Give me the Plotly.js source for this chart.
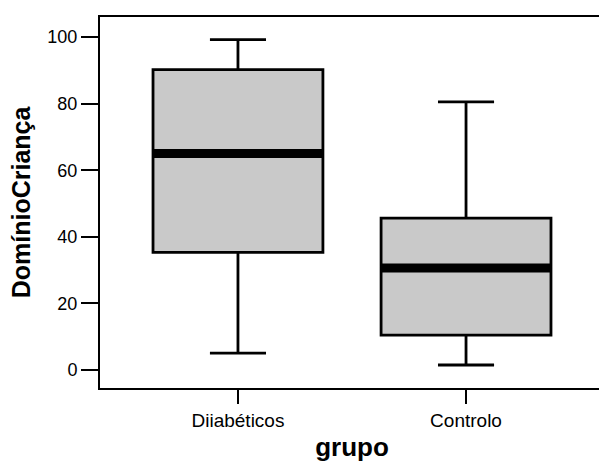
<!DOCTYPE html>
<html>
<head>
<meta charset="utf-8">
<script src="https://cdn.plot.ly/plotly-3.0.1.min.js"></script>
<style>html,body{margin:0;padding:0;overflow:hidden;background:#fff;}#chart{width:604px;height:462px;}</style>
</head>
<body>
<div id="chart"></div>
<script>
const categories = ["Diiabéticos", "Controlo"];
const q1 = [35.3, 10.5];
const medians = [65, 30.6];
const q3 = [90.2, 45.6];
const lowerWhisker = [5.1, 1.5];
const upperWhisker = [99.2, 80.5];

const boxWidth = 0.745;
const traces = [];
categories.forEach((c, i) => {
  traces.push({
    type: 'box', x: [i], q1: [q1[i]], median: [medians[i]], q3: [q3[i]],
    lowerfence: [lowerWhisker[i]], upperfence: [upperWhisker[i]],
    width: boxWidth, whiskerwidth: 0.33,
    fillcolor: '#c9c9c9', line: {color: '#000', width: 2.8},
    hoverinfo: 'skip', showlegend: false, boxpoints: false
  });
});
categories.forEach((c, i) => {
  traces.push({
    type: 'scatter', mode: 'lines',
    x: [i - boxWidth / 2, i + boxWidth / 2], y: [medians[i], medians[i]],
    line: {color: '#000', width: 9}, hoverinfo: 'skip', showlegend: false
  });
});

const layout = {
  width: 604, height: 462,
  margin: {l: 100, r: 0, t: 17, b: 74},
  paper_bgcolor: '#fff', plot_bgcolor: '#fff',
  font: {family: 'Liberation Sans, Arial, sans-serif', color: '#000'},
  showlegend: false,
  boxmode: 'overlay',
  xaxis: {
    range: [-0.605, 1.605], tickvals: [0, 1], ticktext: categories,
    showgrid: false, zeroline: false, showline: true, mirror: true,
    linecolor: '#000', linewidth: 2, ticks: 'outside', ticklen: 14, tickwidth: 2, tickcolor: '#000',
    tickfont: {size: 19},
    title: {text: '<b>grupo</b>', font: {size: 26}, standoff: 14}
  },
  yaxis: {
    range: [-5.4, 106], tickvals: [0, 20, 40, 60, 80, 100],
    showgrid: false, zeroline: false, showline: true, mirror: false,
    linecolor: '#000', linewidth: 2, ticks: 'outside', ticklen: 17, tickwidth: 2, tickcolor: '#000',
    tickfont: {size: 18},
    title: {text: '<b>DomínioCriança</b>', font: {size: 25}, standoff: 10}
  }
};
Plotly.newPlot('chart', traces, layout, {displayModeBar: false, staticPlot: true});
</script>
</body>
</html>
